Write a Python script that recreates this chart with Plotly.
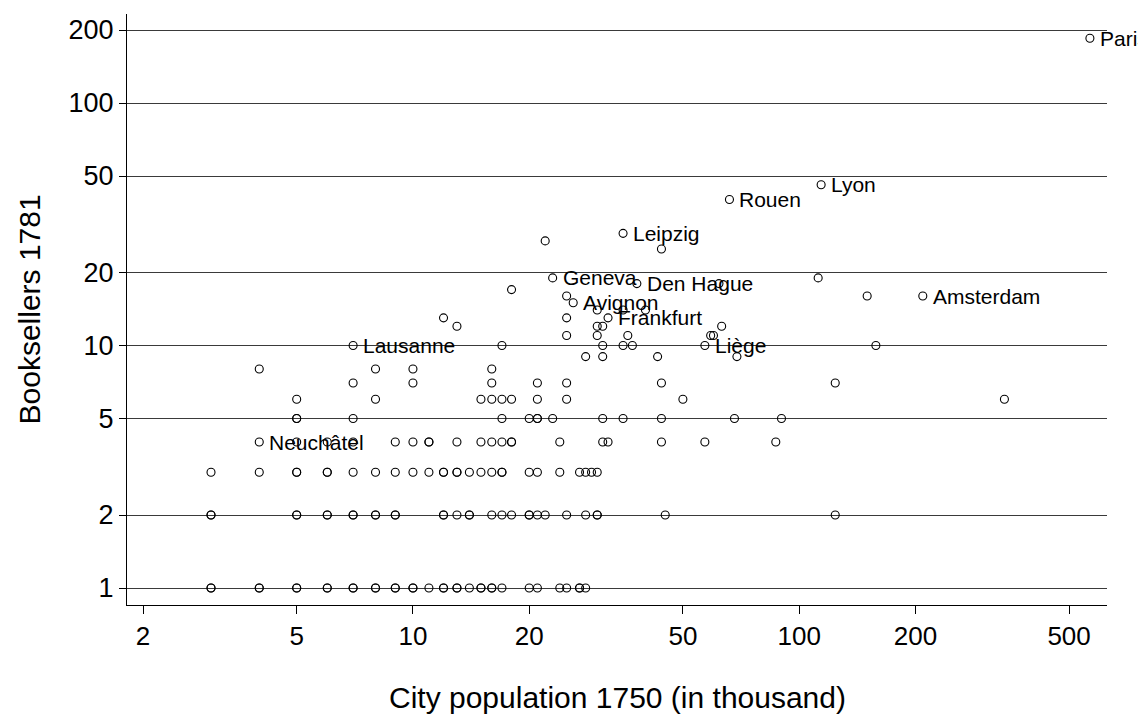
import math
import plotly.graph_objects as go

# Towns named on the chart
cities = ["Paris", "Lyon", "Rouen", "Leipzig", "Geneva", "Den Hague",
          "Amsterdam", "Avignon", "Frankfurt", "Liège", "Lausanne", "Neuchâtel"]
city_pop = [566, 114, 66, 35, 23, 38, 209, 26, 32, 57, 7, 4]
city_sellers = [185, 46, 40, 29, 19, 18, 16, 15, 13, 10, 10, 4]

# All other towns: population 1750 (thousand) and number of booksellers 1781
town_pop = [
    3, 3, 4, 4, 5, 5, 6, 6, 7, 7, 8, 8, 9, 9, 10, 10, 11, 12, 12, 13, 13, 14, 15, 15, 16, 16, 17, 20, 21, 24, 25, 27, 27, 28,
    3, 3, 5, 5, 6, 6, 7, 7, 8, 8, 9, 9, 12, 12, 13, 14, 14, 16, 17, 18, 20, 20, 21, 22, 25, 28, 30, 30, 45, 124,
    3, 4, 5, 5, 6, 6, 7, 8, 9, 10, 11, 12, 12, 13, 13, 14, 15, 16, 17, 17, 20, 21, 24, 27, 28, 29, 30,
    5, 6, 7, 9, 10, 11, 11, 13, 15, 16, 17, 18, 18, 24, 31, 32, 44, 57, 87,
    5, 5, 7, 17, 20, 21, 21, 23, 31, 35, 44, 68, 90,
    5, 8, 15, 16, 17, 18, 21, 25, 50, 340,
    7, 10, 16, 21, 25, 44, 124,
    4, 8, 10, 16,
    28, 31, 43, 69,
    17, 31, 35, 37, 158,
    25, 30, 36, 59, 60,
    13, 30, 31, 63,
    12, 25,
    30, 35, 40,
    25, 150,
    18,
    62,
    112,
    44,
    22,
]
town_sellers = [
    1, 1, 1, 1, 1, 1, 1, 1, 1, 1, 1, 1, 1, 1, 1, 1, 1, 1, 1, 1, 1, 1, 1, 1, 1, 1, 1, 1, 1, 1, 1, 1, 1, 1,
    2, 2, 2, 2, 2, 2, 2, 2, 2, 2, 2, 2, 2, 2, 2, 2, 2, 2, 2, 2, 2, 2, 2, 2, 2, 2, 2, 2, 2, 2,
    3, 3, 3, 3, 3, 3, 3, 3, 3, 3, 3, 3, 3, 3, 3, 3, 3, 3, 3, 3, 3, 3, 3, 3, 3, 3, 3,
    4, 4, 4, 4, 4, 4, 4, 4, 4, 4, 4, 4, 4, 4, 4, 4, 4, 4, 4,
    5, 5, 5, 5, 5, 5, 5, 5, 5, 5, 5, 5, 5,
    6, 6, 6, 6, 6, 6, 6, 6, 6, 6,
    7, 7, 7, 7, 7, 7, 7,
    8, 8, 8, 8,
    9, 9, 9, 9,
    10, 10, 10, 10, 10,
    11, 11, 11, 11, 11,
    12, 12, 12, 12,
    13, 13,
    14, 14, 14,
    16, 16,
    17,
    18,
    19,
    25,
    27,
]

x_ticks = [2, 5, 10, 20, 50, 100, 200, 500]
y_ticks = [1, 2, 5, 10, 20, 50, 100, 200]

FONT = "Liberation Sans, Arial, Helvetica, sans-serif"
marker_style = dict(symbol="circle-open", size=8, color="black",
                    line=dict(width=1.1, color="black"))

fig = go.Figure()
fig.add_trace(go.Scatter(
    x=town_pop + city_pop, y=town_sellers + city_sellers, mode="markers",
    marker=marker_style, showlegend=False, cliponaxis=False,
))

# City name labels to the right of their markers (log axes take log10 positions)
for name, p, s in zip(cities, city_pop, city_sellers):
    fig.add_annotation(
        text=name, x=math.log10(p), y=math.log10(s), xref="x", yref="y",
        xanchor="left", yanchor="middle", xshift=8, showarrow=False,
        font=dict(family=FONT, size=21, color="black"),
    )

fig.update_xaxes(
    type="log", range=[0.2596, 2.7971],
    tickvals=x_ticks, ticktext=[str(v) for v in x_ticks],
    ticks="outside", ticklen=8, tickwidth=1, tickcolor="black",
    showline=True, linecolor="black", linewidth=1,
    showgrid=False, zeroline=False,
    tickfont=dict(family=FONT, size=26, color="black"),
)
fig.update_yaxes(
    type="log", range=[-0.0701, 2.3670],
    tickvals=y_ticks, ticktext=[str(v) for v in y_ticks],
    ticks="outside", ticklen=7, tickwidth=1, tickcolor="black",
    showline=True, linecolor="black", linewidth=1,
    showgrid=True, gridcolor="#3a3a3a", gridwidth=1,
    zeroline=False,
    tickfont=dict(family=FONT, size=27, color="black"),
)

fig.add_annotation(
    text="City population 1750 (in thousand)", xref="paper", yref="paper",
    x=0.5, y=-0.1557, xanchor="center", yanchor="middle", showarrow=False,
    font=dict(family=FONT, size=30, color="black"),
)
fig.add_annotation(
    text="Booksellers 1781", xref="paper", yref="paper",
    x=-0.099, y=0.5, xanchor="center", yanchor="middle", showarrow=False,
    textangle=-90, font=dict(family=FONT, size=30, color="black"),
)

fig.update_layout(
    width=1138, height=715,
    margin=dict(l=127, r=31, t=14, b=110),
    plot_bgcolor="white", paper_bgcolor="white",
    font=dict(family=FONT, color="black"),
)

fig.write_html("out.html")
